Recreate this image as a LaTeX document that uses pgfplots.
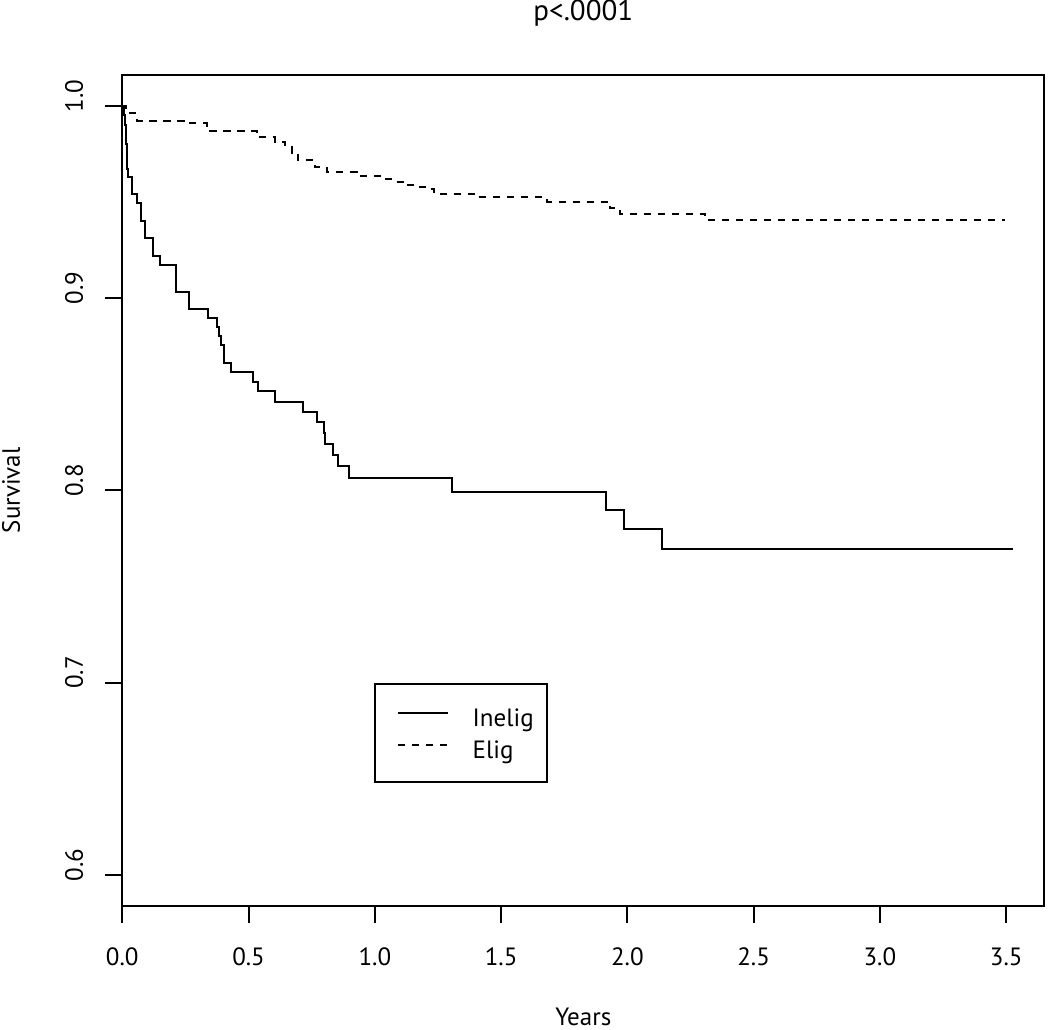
\documentclass[border=0pt]{standalone}
\usepackage{fontspec}
\setmainfont{PT Sans}
\usepackage{pgfplots}
\pgfplotsset{compat=1.18}
\begin{document}
\begin{tikzpicture}
\useasboundingbox (-61.15pt,-61.65pt) rectangle (463.85pt,452.85pt);
\begin{axis}[
  at={(0pt,0pt)}, anchor=south west,
  scale only axis, width=461pt, height=415.35pt,
  xmin=0, xmax=3.651, ymin=0.584, ymax=1.016,
  axis line style={line width=1pt},
  tick style={line width=1pt, black},
  tick align=outside, major tick length=8.5pt,
  xtick pos=bottom, ytick pos=left,
  xtick={0,0.5,1,1.5,2,2.5,3,3.5},
  xticklabels={0.0,0.5,1.0,1.5,2.0,2.5,3.0,3.5},
  ytick={0.6,0.7,0.8,0.9,1.0},
  yticklabels={0.6,0.7,0.8,0.9,1.0},
  font=\fontsize{12.5}{15}\selectfont,
  xticklabel style={anchor=base, yshift=-21.15pt},
  yticklabel style={xshift=-11.15pt, yshift=5pt, rotate=90, anchor=base},
  xlabel={Years},
  xlabel style={at={(axis description cs:0.5,0)}, anchor=base, yshift=-59.65pt},
  ylabel={Survival},
  ylabel style={at={([xshift=-51.15pt]axis description cs:0,0.5)}, anchor=base},
  title={p<.0001},
  title style={at={(axis description cs:0.5,1)}, anchor=base, yshift=21pt, font=\fontsize{14.5}{17}\selectfont},
  legend image code/.code={\path[draw=none] (0pt,0pt) -- (42.35pt,0pt); \draw[#1] (5pt,2pt) -- (30pt,2pt);},
  legend cell align=left,
  legend style={at={(axis description cs:0.2730,0.2677)}, anchor=north west,
    draw=black, line width=1pt, inner xsep=6.5pt, inner ysep=8.2pt, row sep=0pt,
    nodes={inner sep=0pt, text height=12.65pt, text depth=3.55pt},
    font=\fontsize{12.5}{15}\selectfont},
]
\addplot[const plot, line width=1pt, black] coordinates {
(0,1) (0.005,0.9953) (0.009,0.990) (0.013,0.985) (0.015,0.980) (0.017,0.972) (0.019,0.967) (0.024,0.9632)
(0.0372,0.9540) (0.0570,0.9493) (0.0729,0.9403) (0.0899,0.9311) (0.1204,0.9220) (0.1493,0.9173)
(0.2127,0.9034) (0.2653,0.8943) (0.3382,0.8897) (0.3762,0.8850) (0.3842,0.8802) (0.3897,0.8755)
(0.4040,0.8663) (0.4293,0.8616) (0.5164,0.8564) (0.5386,0.8516) (0.6048,0.8460) (0.7168,0.8408)
(0.7699,0.8353) (0.7988,0.8297) (0.8016,0.8240) (0.8333,0.8182) (0.8554,0.8125) (0.8978,0.8065)
(1.3046,0.7991) (1.9145,0.7896) (1.9869,0.7801) (2.1362,0.7696) (3.5275,0.7696)
};
\addlegendentry{Inelig}
\addplot[const plot, line width=1pt, black, dash pattern=on 3.6pt off 3.4pt] coordinates {
(0,1) (0.015,0.9962) (0.057,0.9923) (0.255,0.9908) (0.334,0.9871) (0.532,0.9835) (0.605,0.9811)
(0.644,0.9785) (0.671,0.9745) (0.695,0.9719) (0.763,0.9681) (0.810,0.9653) (0.928,0.9635)
(1.027,0.9620) (1.073,0.9606) (1.126,0.9589) (1.166,0.9577) (1.219,0.9566) (1.234,0.9540)
(1.404,0.9524) (1.681,0.9502) (1.931,0.9467) (1.971,0.9438) (2.308,0.9406) (3.496,0.9406)
};
\addlegendentry{Elig}
\end{axis}
\end{tikzpicture}
\end{document}
